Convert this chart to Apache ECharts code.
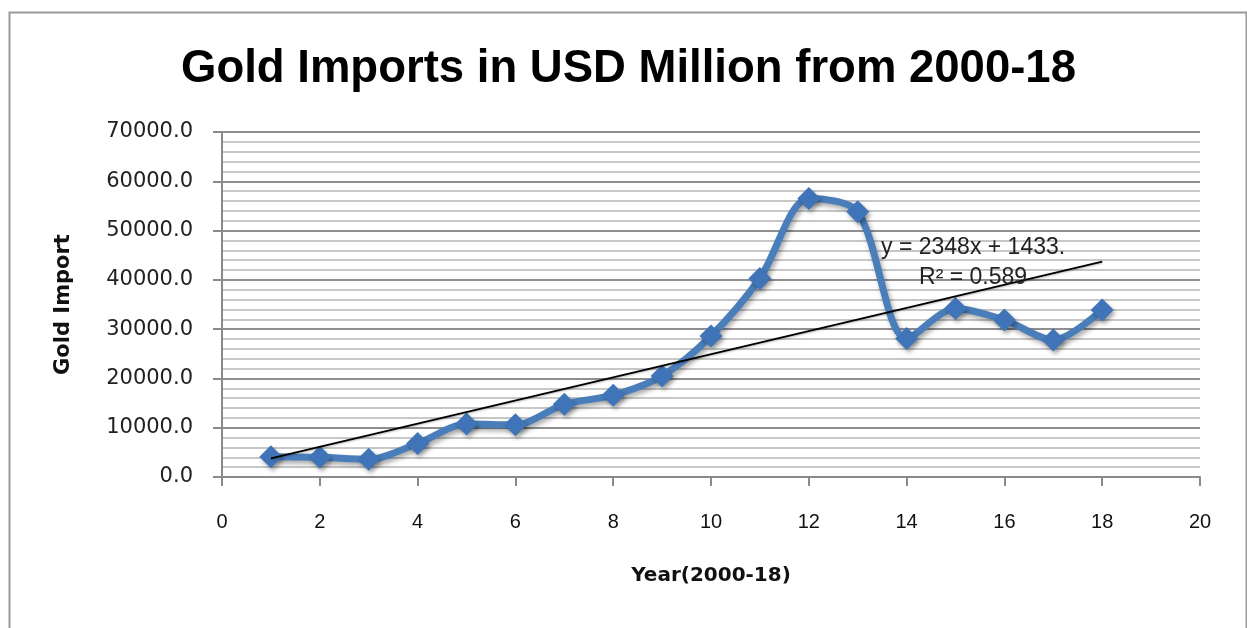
<!DOCTYPE html>
<html>
<head>
<meta charset="utf-8">
<script src="https://cdn.jsdelivr.net/npm/echarts@6/dist/echarts.min.js"></script>
<style>
html,body{margin:0;padding:0;background:#fff;}
#c{width:1247px;height:628px;}
</style>
</head>
<body>
<div id="c"></div>
<script>
var years = [1,2,3,4,5,6,7,8,9,10,11,12,13,14,15,16,17,18];
var goldImports = [4100,4000,3600,6800,10750,10600,14750,16600,20500,28600,40300,56500,53800,28100,34200,31850,27800,33900];
var trendSlope = 2348;
var trendIntercept = 1433;
var trendText = ['y = 2348x + 1433.', 'R\u00B2 = 0.589'];
var trendLabelAt = [15.36, 43400];
var xRange = [0, 20, 2];
var yRange = [0, 70000, 10000];

var seriesData = years.map(function(x, i){ return [x, goldImports[i]]; });
var x0 = years[0], x1 = years[years.length-1];
var trendData = [[x0, trendSlope*x0 + trendIntercept], [x1, trendSlope*x1 + trendIntercept]];

var chart = echarts.init(document.getElementById('c'));
chart.setOption({
  animation: false,
  backgroundColor: '#fff',
  title: {
    text: 'Gold Imports in USD Million from 2000-18',
    left: 176, top: 41,
    textStyle: {fontFamily: 'Liberation Sans', fontWeight: 'bold', fontSize: 45.5, color: '#000'}
  },
  graphic: [{
    type: 'rect', shape: {x: 9.5, y: 12.5, width: 1237, height: 640},
    style: {fill: 'none', stroke: '#9a9a9a', lineWidth: 2}, silent: true
  }],
  grid: {left: 222, right: 47, top: 132, bottom: 151},
  xAxis: {
    type: 'value', min: xRange[0], max: xRange[1], interval: xRange[2],
    name: 'Year(2000-18)', nameLocation: 'middle', nameGap: 89,
    nameTextStyle: {fontFamily: 'DejaVu Sans', fontWeight: 'bold', fontSize: 20, color: '#111'},
    axisLine: {show: true, onZero: false, lineStyle: {color: '#8a8a8a', width: 2}},
    axisTick: {show: true, inside: false, length: 9, lineStyle: {color: '#8a8a8a', width: 2}},
    axisLabel: {margin: 35, fontFamily: 'Liberation Sans Narrow, Liberation Sans', fontSize: 20, color: '#111'},
    splitLine: {show: false}
  },
  yAxis: {
    type: 'value', min: yRange[0], max: yRange[1], interval: yRange[2],
    name: 'Gold Import', nameLocation: 'middle', nameGap: 148,
    nameTextStyle: {fontFamily: 'DejaVu Sans', fontWeight: 'bold', fontSize: 21, color: '#111'},
    axisLine: {show: true, lineStyle: {color: '#8a8a8a', width: 2}},
    axisTick: {show: true, length: 9, lineStyle: {color: '#8a8a8a', width: 2}},
    axisLabel: {margin: 29, fontFamily: 'DejaVu Sans', fontSize: 21, color: '#222',
      formatter: function(v){ return v.toFixed(1); }},
    splitLine: {show: true, lineStyle: {color: '#8f8f8f', width: 2}},
    minorTick: {show: false, splitNumber: 5},
    minorSplitLine: {show: true, lineStyle: {color: '#b4b4b4', width: 1.6}}
  },
  series: [{
    type: 'line',
    data: seriesData,
    smooth: 0.3,
    symbol: 'diamond',
    symbolSize: 23,
    lineStyle: {color: '#4a7ebb', width: 7, shadowColor: 'rgba(0,0,0,0.35)', shadowBlur: 5, shadowOffsetX: 2, shadowOffsetY: 3},
    itemStyle: {color: '#3f75b8', borderWidth: 0, shadowColor: 'rgba(0,0,0,0.35)', shadowBlur: 4, shadowOffsetX: 2, shadowOffsetY: 3},
    z: 2
  }, {
    type: 'line',
    data: trendData,
    symbol: 'none',
    lineStyle: {color: '#000', width: 1.8, shadowColor: 'rgba(0,0,0,0.3)', shadowBlur: 2, shadowOffsetY: 1},
    z: 3,
    markPoint: {
      symbol: 'circle', symbolSize: 0,
      data: [{coord: trendLabelAt}],
      label: {
        show: true, position: 'inside',
        formatter: trendText.join('\n'),
        fontFamily: 'Liberation Sans', fontSize: 23, lineHeight: 30, color: '#222', align: 'center'
      }
    }
  }]
});
</script>
</body>
</html>
